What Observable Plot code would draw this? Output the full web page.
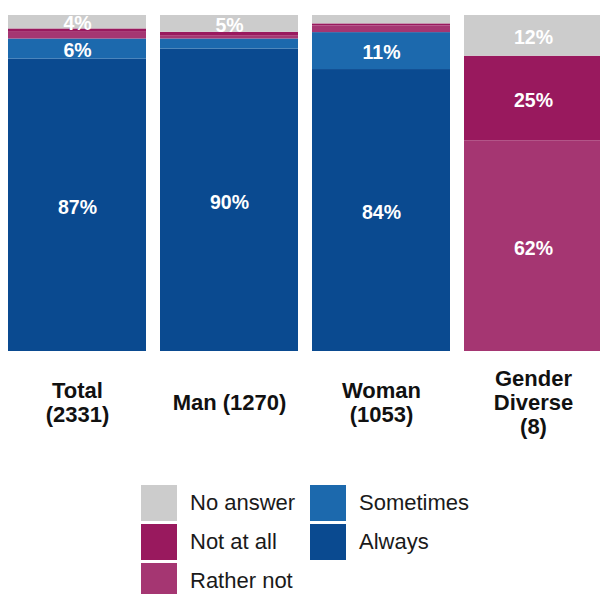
<!DOCTYPE html>
<html>
<head>
<meta charset="utf-8">
<script src="https://cdn.jsdelivr.net/npm/d3@7"></script>
<script src="https://cdn.jsdelivr.net/npm/@observablehq/plot@0.6"></script>
<style>
  body { margin: 0; background: #fff; font-family: "Liberation Sans", Arial, sans-serif; }
  #wrap { position: relative; width: 600px; height: 594px; }
  #legend { position: absolute; left: 141px; top: 485px; display: grid; grid-auto-flow: column;
    grid-template-rows: repeat(3, 36px); grid-template-columns: 169px auto; row-gap: 3px; }
  .item { display: flex; align-items: center; font-size: 22px; color: #1a1a1a; }
  .sw { width: 36px; height: 36px; margin-right: 13px; flex: none; }
</style>
</head>
<body>
<div id="wrap"><div id="chart"></div><div id="legend"></div></div>
<script>
const groups = ["Total", "Man", "Woman", "Gender Diverse"];
const groupLabels = ["Total\n(2331)", "Man (1270)", "Woman\n(1053)", "Gender\nDiverse\n(8)"];
const answers = ["Always", "Sometimes", "Rather not", "Not at all", "No answer"];
const answerColors = ["#0a4a90", "#1c69ad", "#a53672", "#99195e", "#cccccc"];
const legendOrder = ["No answer", "Not at all", "Rather not", "Sometimes", "Always"];
const always    = [87, 90, 84, 0];
const sometimes = [6, 3, 11, 0];
const ratherNot = [2, 1, 2, 62];
const notAtAll  = [1, 1, 0.6, 25];
const noAnswer  = [4, 5, 2.5, 12];
const labelMin = 4;

const series = [always, sometimes, ratherNot, notAtAll, noAnswer];
const data = [];
groups.forEach((g, i) => answers.forEach((a, j) => data.push({group: g, answer: a, value: series[j][i]})));

const stackOpts = {x: "group", y: "value", z: "answer", order: answers, offset: "normalize"};

const chart = Plot.plot({
  width: 600,
  height: 450,
  marginTop: 15,
  marginBottom: 99,
  marginLeft: 8,
  marginRight: 0,
  style: {fontFamily: '"Liberation Sans", Arial, sans-serif', background: "#fff"},
  x: {domain: groups, range: [8, 603], paddingInner: 0.092, paddingOuter: 0, axis: null, label: null},
  y: {axis: null},
  color: {domain: answers, range: answerColors},
  marks: [
    Plot.barY(data, Plot.stackY({...stackOpts, fill: "answer"})),
    Plot.text(data, Plot.stackY({...stackOpts,
      text: d => d.value >= labelMin ? `${Math.round(d.value)}%` : "",
      fill: "white", fontSize: 19.5, fontWeight: "bold", dy: 2})),
    Plot.axisX({
      label: null,
      tickSize: 0, tickPadding: 51, lineAnchor: "middle", lineHeight: 1.1,
      fontSize: 22, fontWeight: "bold", fill: "#111",
      tickFormat: d => groupLabels[groups.indexOf(d)]
    })
  ]
});
document.getElementById("chart").appendChild(chart);

const legend = document.getElementById("legend");
legendOrder.forEach(a => {
  const it = document.createElement("div");
  it.className = "item";
  const sw = document.createElement("span");
  sw.className = "sw";
  sw.style.background = answerColors[answers.indexOf(a)];
  it.appendChild(sw);
  it.appendChild(document.createTextNode(a));
  legend.appendChild(it);
});
</script>
</body>
</html>
